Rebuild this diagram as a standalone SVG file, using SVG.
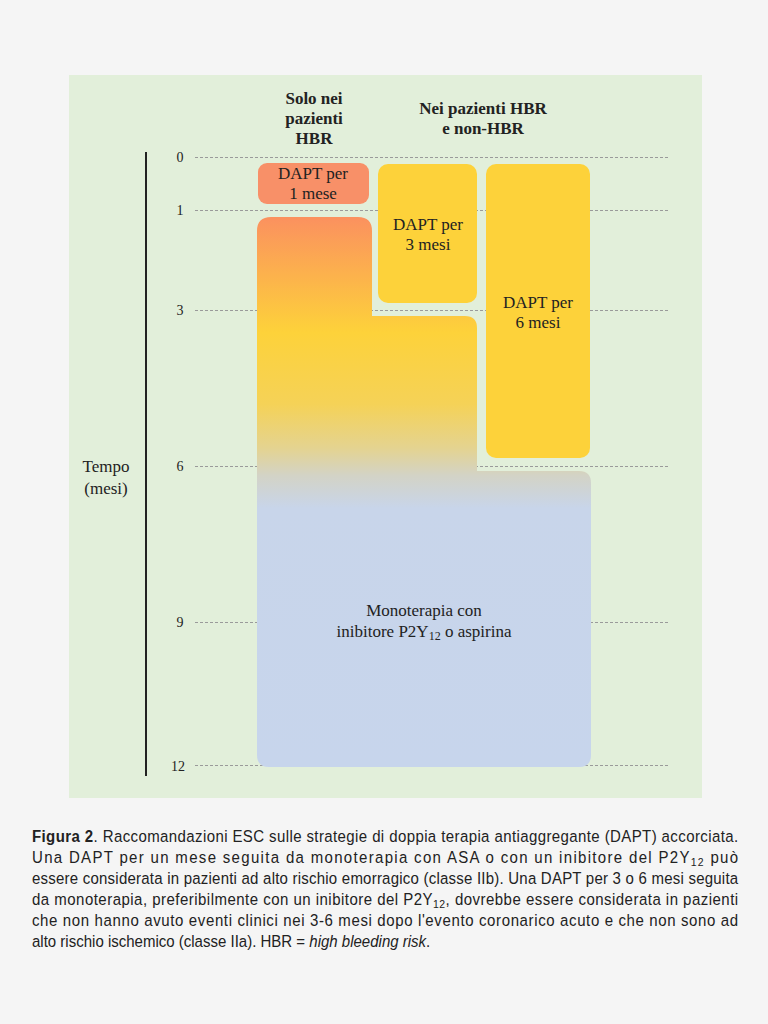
<svg xmlns="http://www.w3.org/2000/svg" width="768" height="1024" viewBox="0 0 768 1024">
  <defs>
    <linearGradient id="g" gradientUnits="userSpaceOnUse" x1="0" y1="217" x2="0" y2="767">
      <stop offset="0" stop-color="#fb915f"/>
      <stop offset="0.21" stop-color="#fdd23a"/>
      <stop offset="0.34" stop-color="#f5d257"/>
      <stop offset="0.42" stop-color="#e4d390"/>
      <stop offset="0.47" stop-color="#d3d3c6"/>
      <stop offset="0.53" stop-color="#c8d5ea"/>
      <stop offset="1" stop-color="#c7d5ec"/>
    </linearGradient>
  </defs>
  <style>
    .serif { font-family: "Liberation Serif", "DejaVu Serif", serif; fill: #222; }
    .hdr { font-size: 17px; font-weight: bold; text-anchor: middle; }
    .tick { font-size: 14px; text-anchor: middle; }
    .lbl { font-size: 17px; text-anchor: middle; }
    .grid { stroke: #9a9a9a; stroke-width: 1; stroke-dasharray: 3 2; }
    .cap { font-family: "Liberation Sans", Arial, sans-serif; font-size: 16.5px; fill: #222; }
  </style>
  <rect x="0" y="0" width="768" height="1024" fill="#f5f5f5"/>
  <rect x="69" y="75" width="633" height="723" fill="#e2efda"/>

  <g id="headers" class="serif">
    <text class="hdr" x="314" y="104">Solo nei</text>
    <text class="hdr" x="314" y="124">pazienti</text>
    <text class="hdr" x="314" y="144">HBR</text>
    <text class="hdr" x="483" y="114">Nei pazienti HBR</text>
    <text class="hdr" x="483" y="134">e non-HBR</text>
  </g>

  <g id="axis" class="serif">
    <line x1="146" y1="152" x2="146" y2="776" stroke="#222" stroke-width="2"/>
    <text class="lbl" x="106" y="472">Tempo</text>
    <text class="lbl" x="106" y="494">(mesi)</text>
    <text class="tick" x="180" y="162">0</text>
    <text class="tick" x="180" y="215">1</text>
    <text class="tick" x="180" y="315">3</text>
    <text class="tick" x="180" y="471">6</text>
    <text class="tick" x="180" y="627">9</text>
    <text class="tick" x="178" y="771">12</text>
  </g>

  <g id="gridlines">
    <line class="grid" x1="195" y1="157.5" x2="668" y2="157.5"/>
    <line class="grid" x1="195" y1="210.5" x2="668" y2="210.5"/>
    <line class="grid" x1="195" y1="310.5" x2="668" y2="310.5"/>
    <line class="grid" x1="195" y1="466.5" x2="668" y2="466.5"/>
    <line class="grid" x1="195" y1="622.5" x2="668" y2="622.5"/>
    <line class="grid" x1="195" y1="765.5" x2="668" y2="765.5"/>
  </g>

  <g id="dapt1">
    <rect x="258" y="163" width="111" height="41" rx="9" fill="#f89068"/>
    <text class="serif lbl" x="313" y="179">DAPT per</text>
    <text class="serif lbl" x="313" y="199">1 mese</text>
  </g>

  <g id="dapt3">
    <rect x="378" y="164" width="99" height="139" rx="10" fill="#fdd23a"/>
    <text class="serif lbl" x="428" y="230">DAPT per</text>
    <text class="serif lbl" x="428" y="250">3 mesi</text>
  </g>

  <g id="dapt6">
    <rect x="486" y="164" width="104" height="294" rx="10" fill="#fdd23a"/>
    <text class="serif lbl" x="538" y="308">DAPT per</text>
    <text class="serif lbl" x="538" y="328">6 mesi</text>
  </g>

  <g id="monoterapia">
    <path d="M257,231 Q257,217 271,217 L358,217 Q372,217 372,231 L372,316 L465,316 Q477,316 477,328 L477,471 L579,471 Q591,471 591,483 L591,755 Q591,767 579,767 L269,767 Q257,767 257,755 Z" fill="url(#g)"/>
    <text class="serif lbl" x="424" y="616">Monoterapia con</text>
    <text class="serif lbl" x="424" y="637">inibitore P2Y<tspan font-size="12" dy="3">12</tspan><tspan dy="-3"> o aspirina</tspan></text>
  </g>

  <g id="caption" class="cap" transform="translate(32,0) scale(0.91,1)">
    <text x="0" y="842" textLength="776" lengthAdjust="spacing"><tspan font-weight="bold">Figura 2</tspan>. Raccomandazioni ESC sulle strategie di doppia terapia antiaggregante (DAPT) accorciata.</text>
    <text x="0" y="863" textLength="776" lengthAdjust="spacing">Una DAPT per un mese seguita da monoterapia con ASA o con un inibitore del P2Y<tspan font-size="11.5" dy="3">12</tspan><tspan dy="-3"> può</tspan></text>
    <text x="0" y="884" textLength="776" lengthAdjust="spacing">essere considerata in pazienti ad alto rischio emorragico (classe IIb). Una DAPT per 3 o 6 mesi seguita</text>
    <text x="0" y="905" textLength="776" lengthAdjust="spacing">da monoterapia, preferibilmente con un inibitore del P2Y<tspan font-size="11.5" dy="3">12</tspan><tspan dy="-3">, dovrebbe essere considerata in pazienti</tspan></text>
    <text x="0" y="926" textLength="776" lengthAdjust="spacing">che non hanno avuto eventi clinici nei 3-6 mesi dopo l'evento coronarico acuto e che non sono ad</text>
    <text x="0" y="947">alto rischio ischemico (classe IIa). HBR = <tspan font-style="italic">high bleeding risk</tspan>.</text>
  </g>
</svg>
